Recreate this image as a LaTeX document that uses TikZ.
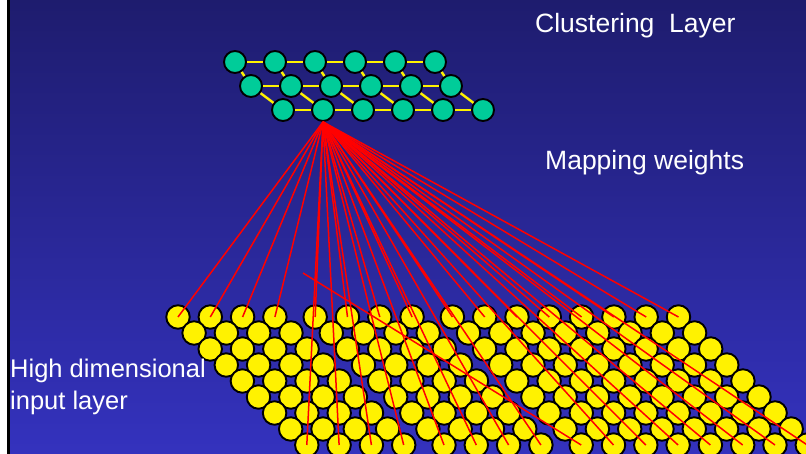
\documentclass[tikz,border=0pt]{standalone}
\usepackage{fontspec}
\setmainfont{Liberation Sans}
\usepackage{tikz}
\usetikzlibrary{positioning}
\definecolor{navytop}{RGB}{30,28,110}
\definecolor{navybottom}{RGB}{52,50,190}
\definecolor{clustergreen}{RGB}{0,204,153}

\begin{document}
\begin{tikzpicture}[x=1pt, y=-1pt,
    unit/.style={circle, draw=black, line width=1.9pt, inner sep=0pt},
    cluster/.style={unit, minimum size=22pt, fill=clustergreen},
    input/.style={unit, minimum size=23.5pt, fill=yellow},
    wire/.style={yellow, line width=2.4pt},
    weight/.style={red, line width=1.5pt},
    slidetext/.style={text=white, inner sep=0pt, font=\fontsize{26.5}{32}\selectfont}]
    \useasboundingbox (0,0) rectangle (806,454);
    \clip (0,0) rectangle (806,454);
    \shade[top color=navytop, bottom color=navybottom] (10,0) rectangle (806,454);
    \fill[black] (7,0) rectangle (10,454);

    % clustering layer
    \foreach \r/\dx/\y in {1/0/62, 2/16/86, 3/48/110}
        \foreach \k in {1,...,6}
            \node[cluster] (c-\r-\k) at ({235+40*(\k-1)+\dx}, \y) {};
    \foreach \r in {1,2,3}
        \foreach \k [count=\n from 2] in {1,...,5}
            \draw[wire] (c-\r-\k) -- (c-\r-\n);
    \foreach \r [count=\s from 2] in {1,2}
        \foreach \k in {1,...,6}
            \draw[wire] (c-\r-\k) -- (c-\s-\k);

    % input layer
    \foreach \j in {1,...,9}
        \foreach \k in {1,...,16} {
            \pgfmathsetmacro\gap{8*min(floor((\k-1)/4),2)}
            \node[input] (in-\j-\k) at ({178+32.3*(\k-1)+\gap+16.1*(\j-1)}, {317+16*(\j-1)}) {};
        }

    % weights
    \foreach \k in {1,...,16}
        \draw[weight] (c-3-2.south) -- (in-1-\k.center);
    \foreach \k in {1,...,8,10,11,...,16}
        \draw[weight] (c-3-2.south) -- (in-9-\k.center);
    \coordinate (stray) at (303,273);
    \draw[weight] (stray) -- (in-9-9.center);

    \node[slidetext, anchor=base west] (top) at (535,33) {Clustering\ \ Layer};
    \node[slidetext, anchor=base west] (map) at (545,170) {Mapping weights};
    \node[slidetext, anchor=north west, align=left, font=\fontsize{25.5}{32}\selectfont] (inp) at (10,359) {High dimensional\\input layer};
\end{tikzpicture}
\end{document}
